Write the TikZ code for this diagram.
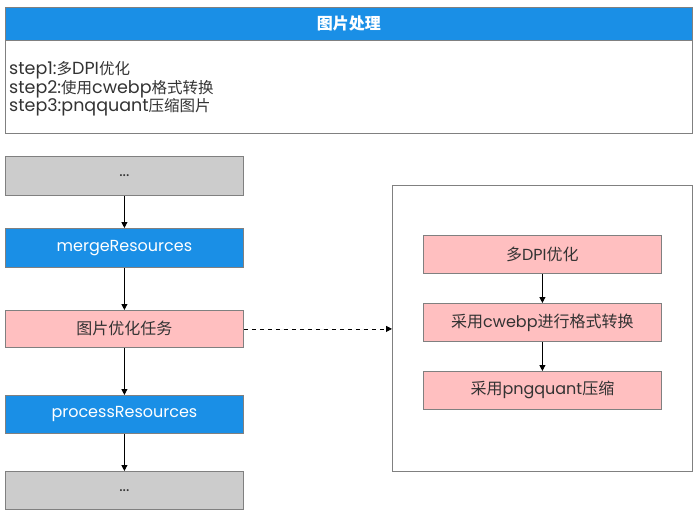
\documentclass[tikz,border=0pt]{standalone}
\usepackage{fontspec}
\setmainfont{Poppins}
\newfontfamily\cjk{Noto Sans CJK SC}
\usetikzlibrary{arrows.meta}
\definecolor{hdrblue}{HTML}{1A8FE6}
\definecolor{pinkfill}{HTML}{FFBFC0}
\definecolor{grayfill}{HTML}{CCCCCC}
\definecolor{edgegray}{HTML}{808080}
\definecolor{txt}{HTML}{333333}
\newcommand{\zh}[1]{{\cjk\fontsize{15.5}{17}\selectfont #1}}
\tikzset{
  box/.style={draw=edgegray, line width=0.8pt, inner sep=0pt, anchor=north west, font=\fontsize{16}{18}\selectfont, text=txt},
  bluebox/.style={box, fill=hdrblue, text=white},
  pinkbox/.style={box, fill=pinkfill},
  graybox/.style={box, fill=grayfill},
  arr/.style={-{Triangle[length=6pt,width=6pt]}, line width=0.8pt, black},
}
\begin{document}
\begin{tikzpicture}[x=1pt,y=-1pt]
\useasboundingbox (0,0) rectangle (700,517);
% top panel
\node[box, fill=white, minimum width=687pt, minimum height=126pt] (panel) at (5,7) {};
\node[bluebox, minimum width=687pt, minimum height=33pt, font=\fontsize{16}{18}\selectfont\cjk\bfseries] (hdr) at (5,7) {图片处理};
\node[anchor=west, inner sep=0pt, text=txt, align=left, font=\fontsize{17.5}{17}\selectfont] (steps) at (9,89)
  {step1:\zh{多}DPI\zh{优化}\\step2:\zh{使用}cwebp\zh{格式转换}\\step3:pnqquant\zh{压缩图片}};
% left column
\node[graybox, minimum width=238pt, minimum height=39pt] (a) at (5,156) {...};
\node[bluebox, minimum width=238pt, minimum height=39pt] (b) at (5,228) {\raisebox{-1.5pt}{mergeResources}};
\node[pinkbox, minimum width=238pt, minimum height=37pt, font=\fontsize{16}{18}\selectfont\cjk] (c) at (5,310) {图片优化任务};
\node[bluebox, minimum width=238pt, minimum height=38pt] (d) at (5,395) {\raisebox{-1.5pt}{processResources}};
\node[graybox, minimum width=238pt, minimum height=38pt] (e) at (5,471) {...};
% right container
\node[box, fill=white, minimum width=300pt, minimum height=286pt] (cont) at (392,185) {};
\node[pinkbox, minimum width=238pt, minimum height=38pt] (p) at (423,235) {{\cjk 多}DPI{\cjk 优化}};
\node[pinkbox, minimum width=238pt, minimum height=38pt] (q) at (423,303) {{\cjk 采用}cwebp{\cjk 进行格式转换}};
\node[pinkbox, minimum width=238pt, minimum height=38pt] (r) at (423,371) {{\cjk 采用}pngquant{\cjk 压缩}};
% arrows
\draw[arr] (a) -- (b);
\draw[arr] (b) -- (c);
\draw[arr] (c) -- (d);
\draw[arr] (d) -- (e);
\draw[arr] (p) -- (q);
\draw[arr] (q) -- (r);
\draw[arr, dashed, dash pattern=on 4pt off 4pt] (c.east) -- (c.east -| cont.west);
\end{tikzpicture}
\end{document}
